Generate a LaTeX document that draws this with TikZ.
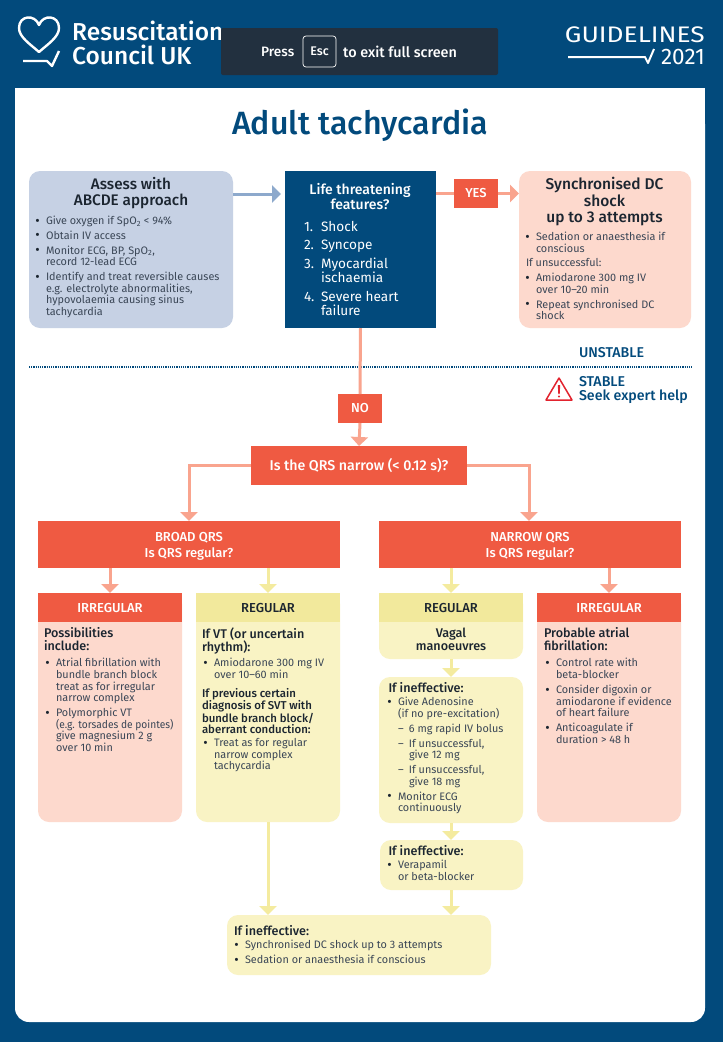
\documentclass[tikz,border=0pt]{standalone}
\usepackage{graphicx}
\usepackage{fontspec}
\setmainfont{Fira Sans}[BoldFont={Fira Sans Medium}]
\usetikzlibrary{arrows.meta}
\definecolor{navy}{HTML}{024A7C}
\definecolor{redb}{HTML}{EF5A42}
\definecolor{pinkb}{HTML}{FDD9CD}
\definecolor{yellb}{HTML}{F9F3C4}
\definecolor{yellh}{HTML}{F2E99C}
\definecolor{blueb}{HTML}{C6D1E4}
\definecolor{salmon}{HTML}{F9A48E}
\definecolor{yarrow}{HTML}{F4EB9F}
\definecolor{barrow}{HTML}{8DA9CC}
\definecolor{bodytx}{HTML}{3A4656}
\definecolor{headtx}{HTML}{1B2530}
\definecolor{overlay}{HTML}{22303F}
\definecolor{warnred}{HTML}{E2232E}
\newcommand{\blt}{\raisebox{-0.6pt}{\textcolor{headtx}{\fontsize{13.5}{11.6}\selectfont\textbullet}}}
\newcommand{\bl}[1]{\hbox to 10pt{\hspace{-.6pt}\blt\hfil}#1}
\newcommand{\ct}[1]{\hspace*{10pt}#1}
\newcommand{\gp}{\\[3.3pt]}
\tikzset{
  x=1pt,y=-1pt,
  boxshape/.style={rectangle,inner sep=0pt,outer sep=0pt,anchor=north west,rounded corners=#1},
  boxshape/.default=11pt,
  hdr/.style={rectangle,inner sep=0pt,outer sep=0pt,anchor=north west,minimum width=144pt,minimum height=29pt},
  sq/.style={rectangle,inner sep=0pt,outer sep=0pt,anchor=north west,text=white},
  txt/.style={inner sep=0pt,outer sep=0pt,anchor=north west,align=left,text=bodytx,font=\fontsize{10.85}{11.6}\selectfont},
  ttl/.style={inner sep=0pt,outer sep=0pt,anchor=north,align=center,text=headtx,font=\fontsize{15.3}{16}\selectfont\bfseries},
  sub/.style={inner sep=0pt,outer sep=0pt,anchor=north west,align=left,text=headtx,font=\fontsize{12.6}{13}\selectfont\bfseries},
  hlabel/.style={inner sep=0pt,outer sep=0pt,align=center,font=\fontsize{13}{16}\selectfont\bfseries},
  sblue/.style={inner sep=0pt,outer sep=0pt,anchor=north west,align=left,text=navy,font=\fontsize{14.2}{14}\selectfont\bfseries},
  rline/.style={draw=salmon,line width=3pt},
  rarrow/.style={draw=salmon,line width=3pt,-{Triangle[length=9pt,width=17pt]}},
  yarr/.style={draw=yarrow,line width=3pt,-{Triangle[length=9pt,width=17pt]}},
  barr/.style={draw=barrow,line width=3pt,-{Triangle[length=9pt,width=17pt]}},
}
\begin{document}
\begin{tikzpicture}
\useasboundingbox (0,0) rectangle (723,1042);
\fill[navy] (0,0) rectangle (723,1042);
% white panel
\fill[white,rounded corners=14pt] (15,110) rectangle (705,1022);
\fill[white] (15,88) rectangle (705,130);
% logo
\draw[white,line width=2.4pt,line join=round] (39,52) .. controls (30,44) and (19,37) .. (19,28)
  .. controls (19,15) and (35,14) .. (39,25) .. controls (43,14) and (59,15) .. (59,28)
  .. controls (59,37) and (48,44) .. (39,52) -- cycle;
\draw[white,line width=2.4pt,line join=round] (23,61) -- (47,61) -- (52,66) -- (59,51);
\node[inner sep=0pt,anchor=west,text=white,font=\fontsize{24.5}{25}\selectfont\bfseries] (rc1) at (72,31) {Resuscitation};
\node[inner sep=0pt,anchor=west,text=white,font=\fontsize{24.5}{25}\selectfont\bfseries] (rc2) at (72,55) {Council UK};
\node[sq,fill=overlay,minimum width=277pt,minimum height=47pt,rounded corners=2pt] (ovl) at (221,28) {};
\node[inner sep=0pt,anchor=west,text=white,font=\fontsize{13.6}{15}\selectfont\bfseries] (press) at (261,51.5) {Press};
\node[draw=white,line width=.7pt,rounded corners=3pt,inner sep=0pt,minimum width=33pt,minimum height=31pt,text=white,font=\fontsize{12.5}{15}\selectfont\bfseries] (esc) at (319.5,51.5) {Esc};
\node[inner sep=0pt,anchor=west,text=white,font=\fontsize{14.4}{15}\selectfont\bfseries] (exit) at (343,51.5) {to exit full screen};
\node[inner sep=0pt,anchor=east,text=white,font=\fontsize{22.5}{24}\selectfont] (gl) at (705,35) {\scalebox{1.17}[1]{GUIDELINES}};
\node[inner sep=0pt,anchor=east,text=white,font=\fontsize{22.5}{24}\selectfont] (yr) at (705,57) {2021};
\draw[white,line width=2pt,line join=round] (568,57) -- (645,57) -- (648,63) -- (654,49);
% title
\node[inner sep=0pt,text=navy,font=\fontsize{32.2}{36}\selectfont\bfseries] (title) at (360,125) {Adult tachycardia};
% stable / unstable divider
\draw[navy,line width=1.3pt,dash pattern=on 1.2pt off 1pt] (29,367) -- (693,367);
\node[sblue] (unst) at (579,347) {UNSTABLE};
\node[sblue] (stab) at (579,376) {STABLE\\Seek expert help};
\draw[warnred,line width=1.5pt,line join=round] (559,378) -- (572,400) -- (546,400) -- cycle;
\fill[warnred] (557.8,385) -- (560.2,385) -- (559.7,394) -- (558.3,394) -- cycle;
\fill[warnred] (559,396.5) circle (1.2);
% upper boxes
\node[boxshape,fill=blueb,minimum width=204pt,minimum height=157pt] (assess) at (29,171) {};
\node[ttl] (assesst) at (131,177.5) {Assess with\\ABCDE approach};
\node[txt] (assessl) at (36,216) {\bl{Give oxygen if SpO\textsubscript{2} < 94\%}\gp
\bl{Obtain IV access}\gp
\bl{Monitor ECG, BP, SpO\textsubscript{2},}\\
\ct{record 12-lead ECG}\gp
\bl{Identify and treat reversible causes}\\
\ct{e.g. electrolyte abnormalities,}\\
\ct{hypovolaemia causing sinus}\\
\ct{tachycardia}};
\node[sq,fill=navy,minimum width=151pt,minimum height=157pt] (life) at (285,171) {};
\node[ttl,text=white,font=\fontsize{14}{15}\selectfont\bfseries] (lifet) at (360,183.5) {Life threatening\\features?};
\node[txt,text=white,font=\fontsize{13.6}{14}\selectfont] (lifel) at (304,221.5) {\hbox to 17pt{1.\hfil}Shock\\[4.2pt]
\hbox to 17pt{2.\hfil}Syncope\\[4.4pt]
\hbox to 17pt{3.\hfil}Myocardial\\
\hspace*{17pt}ischaemia\\[5pt]
\hbox to 17pt{4.\hfil}Severe heart\\
\hspace*{17pt}failure};
\node[sq,fill=redb,minimum width=44pt,minimum height=29pt,font=\fontsize{13}{14}\selectfont\bfseries] (yes) at (454,179) {YES};
\node[boxshape,fill=pinkb,minimum width=172pt,minimum height=157pt] (sync) at (519,171) {};
\node[ttl,font=\fontsize{15.5}{16.4}\selectfont\bfseries] (synct) at (604.5,177.5) {Synchronised DC\\shock\\up to 3 attempts};
\node[txt] (syncl) at (526,232) {\bl{Sedation or anaesthesia if}\\
\ct{conscious}\gp
If unsuccessful:\gp
\bl{Amiodarone 300 mg IV}\\
\ct{over 10–20 min}\gp
\bl{Repeat synchronised DC}\\
\ct{shock}};
\node[sq,fill=redb,minimum width=44pt,minimum height=29pt,font=\fontsize{13}{14}\selectfont\bfseries] (no) at (338,394) {NO};
\node[sq,fill=redb,minimum width=216pt,minimum height=39pt,font=\fontsize{14.2}{14}\selectfont\bfseries] (qrs) at (251,446) {Is the QRS narrow (< 0.12 s)?};
\node[sq,fill=redb,minimum width=302pt,minimum height=47pt] (broad) at (38,521) {};
\node[hlabel,text=white] (broadt) at (189,546) {BROAD QRS\\Is QRS regular?};
\node[sq,fill=redb,minimum width=302pt,minimum height=47pt] (narrow) at (379,521) {};
\node[hlabel,text=white] (narrowt) at (530,546) {NARROW QRS\\Is QRS regular?};
% lower column bodies
\node[boxshape,fill=pinkb,minimum width=144pt,minimum height=229pt] (b1) at (38,593) {};
\node[boxshape,fill=yellb,minimum width=144pt,minimum height=229pt] (b2) at (196,593) {};
\node[boxshape,fill=yellb,minimum width=144pt,minimum height=66pt] (b3) at (379,593) {};
\node[boxshape,fill=pinkb,minimum width=144pt,minimum height=229pt] (b4) at (537,593) {};
\node[hdr,fill=redb,text=white,hlabel] (h1) at (38,593) {IRREGULAR};
\node[hdr,fill=yellh,text=headtx,hlabel] (h2) at (196,593) {REGULAR};
\node[hdr,fill=yellh,text=headtx,hlabel] (h3) at (379,593) {REGULAR};
\node[hdr,fill=redb,text=white,hlabel] (h4) at (537,593) {IRREGULAR};
% column 1
\node[sub] (t1) at (44,627.5) {Possibilities\\include:};
\node[txt] (l1) at (46,658.5) {\bl{Atrial fibrillation with}\\
\ct{bundle branch block}\\
\ct{treat as for irregular}\\
\ct{narrow complex}\gp
\bl{Polymorphic VT}\\
\ct{\scalebox{.94}[1]{(e.g. torsades de pointes)}}\\
\ct{give magnesium 2 g}\\
\ct{over 10 min}};
% column 2
\node[sub] (t2) at (202,627.5) {If VT (or uncertain\\rhythm):};
\node[txt] (l2) at (204,658.5) {\bl{Amiodarone 300 mg IV}\\
\ct{over 10–60 min}};
\node[sub,font=\fontsize{11.4}{11.7}\selectfont\bfseries] (t2b) at (202,688.5) {If previous certain\\diagnosis of SVT with\\bundle branch block/\\aberrant conduction:};
\node[txt] (l2b) at (204,738.5) {\bl{Treat as for regular}\\
\ct{narrow complex}\\
\ct{tachycardia}};
% column 3
\node[sub,anchor=north,align=center] (t3) at (451,627.5) {Vagal\\manoeuvres};
\node[boxshape,fill=yellb,minimum width=144pt,minimum height=146pt] (if1) at (379,677) {};
\node[sub] (if1t) at (388.5,682.5) {If ineffective:};
\node[txt] (if1l) at (388,697.5) {\bl{Give Adenosine}\\
\ct{(if no pre-excitation)}\gp
\ct{\hbox to 11pt{–\hfil}6 mg rapid IV bolus}\gp
\ct{\hbox to 11pt{–\hfil}If unsuccessful,}\\
\ct{\hspace*{11pt}give 12 mg}\gp
\ct{\hbox to 11pt{–\hfil}If unsuccessful,}\\
\ct{\hspace*{11pt}give 18 mg}\gp
\bl{Monitor ECG}\\
\ct{continuously}};
\node[boxshape,fill=yellb,minimum width=143pt,minimum height=50pt] (if2) at (380,840) {};
\node[sub] (if2t) at (388.5,845.5) {If ineffective:};
\node[txt] (if2l) at (388,860.5) {\bl{Verapamil}\\
\ct{or beta-blocker}};
% column 4
\node[sub] (t4) at (544,627.5) {Probable atrial\\fibrillation:};
\node[txt] (l4) at (546,658.5) {\bl{Control rate with}\\
\ct{beta-blocker}\gp
\bl{Consider digoxin or}\\
\ct{amiodarone if evidence}\\
\ct{of heart failure}\gp
\bl{Anticoagulate if}\\
\ct{duration > 48 h}};
% bottom
\node[boxshape,fill=yellb,minimum width=264pt,minimum height=60pt] (last) at (227,915) {};
\node[sub] (lastt) at (234,925.5) {If ineffective:};
\node[txt] (lastl) at (235,940.5) {\bl{Synchronised DC shock up to 3 attempts}\gp
\bl{Sedation or anaesthesia if conscious}};
% connectors
\coordinate (qa) at (assess.east |- 0,194);
\coordinate (qb) at (life.west |- 0,194);
\draw[barr,shorten >=4pt] (qa) -- (qb);
\draw[rline] (life.east |- yes.west) -- (yes.west);
\draw[rarrow] (yes.east) -- (yes.east -| sync.west);
\draw[rline] (life.south) -- (no.north);
\draw[rarrow] (no.south) -- (qrs.north);
\draw[rarrow] (qrs.west) -| (broad.north);
\draw[rarrow] (qrs.east) -| ([xshift=-1pt]narrow.north);
\draw[rarrow] (broad.south -| h1.north) -- (h1.north);
\draw[yarr] (broad.south -| h2.north) -- (h2.north);
\draw[yarr] (narrow.south -| h3.north) -- (h3.north);
\draw[rarrow] (narrow.south -| h4.north) -- (h4.north);
\draw[yarr] (b3.south) -- (if1.north);
\draw[yarr] (if1.south) -- (if2.north -| if1.south);
\draw[yarr] (if2.south -| if1.south) -- (last.north -| if1.south);
\draw[yarr] (b2.south) -- (last.north -| b2.south);
\end{tikzpicture}
\end{document}
